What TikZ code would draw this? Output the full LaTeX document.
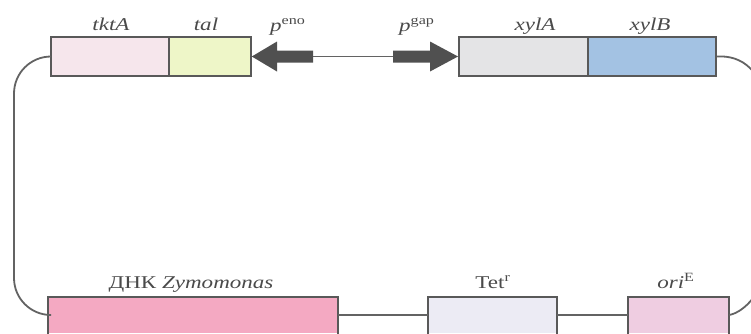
\documentclass[tikz,border=0pt]{standalone}
\usepackage{fontspec}
\setmainfont{Liberation Serif}
\usepackage{graphicx}
\definecolor{bordc}{HTML}{595959}
\definecolor{linec}{HTML}{636363}
\definecolor{arrc}{HTML}{505050}
\definecolor{txtc}{HTML}{4a4a4a}
\definecolor{ctkt}{HTML}{F6E6EC}
\definecolor{ctal}{HTML}{EEF6C8}
\definecolor{cxya}{HTML}{E4E4E6}
\definecolor{cxyb}{HTML}{A3C2E3}
\definecolor{cdnk}{HTML}{F4A9C2}
\definecolor{ctet}{HTML}{ECEBF4}
\definecolor{cori}{HTML}{EFCDE1}
\newcommand\lbl[1]{\scalebox{1.28}[1]{#1}}
\begin{document}
\begin{tikzpicture}[x=1pt,y=-1pt,
  gene/.style={draw=bordc, line width=1.8pt, minimum height=39pt, inner sep=0pt, anchor=west},
  lowgene/.style={minimum height=36pt, inner sep=0pt},
  boxedge/.style={draw=bordc, line width=1.8pt},
  loopline/.style={draw=linec, line width=1.8pt},
  thinline/.style={draw=linec, line width=1.2pt},
  prom/.style={fill=arrc, draw=none},
  lab/.style={anchor=base, text=txtc, font=\fontsize{18}{21}\selectfont, inner sep=0pt}]
\useasboundingbox (0,0) rectangle (751,333);
\clip (0,0) rectangle (751,333);
% top genes
\node[gene, fill=ctkt, minimum width=118pt] (tkt) at (50,56.5) {};
\node[gene, fill=ctal, minimum width=82pt] (tal) at (168,56.5) {};
\node[gene, fill=cxya, minimum width=129pt] (xya) at (458,56.5) {};
\node[gene, fill=cxyb, minimum width=128pt] (xyb) at (587,56.5) {};
% promoters
\coordinate (enoTail) at (313,56.5);
\coordinate (gapTail) at (393,56.5);
\fill[prom] (tal.east) -- (277,41.5) -- (277,50.5) -- (313,50.5) -- (313,62.5) -- (277,62.5) -- (277,71.5) -- cycle;
\fill[prom] (xya.west) -- (430,41.5) -- (430,50.5) -- (393,50.5) -- (393,62.5) -- (430,62.5) -- (430,71.5) -- cycle;
\draw[thinline] (enoTail) -- (gapTail);
% bottom genes
\node[lowgene, fill=cdnk, minimum width=290pt] (dnk) at (193,315) {};
\node[lowgene, fill=ctet, minimum width=129pt] (tet) at (492.5,315) {};
\node[lowgene, fill=cori, minimum width=101pt] (ori) at (678.5,315) {};
\foreach \n in {dnk,tet,ori}
  \draw[boxedge] ([yshift=-3pt]\n.south west) -- (\n.north west) -- (\n.north east) -- ([yshift=-3pt]\n.south east);
\draw[loopline] (dnk.east) -- (tet.west);
\draw[loopline] (tet.east) -- (ori.west);
% loop
\draw[loopline, rounded corners=37pt] (tkt.west) -| (14,315) -- (dnk.west);
\draw[loopline] (xyb.east) .. controls (742,55) and (762,70) .. (768,110) -- (768,260) .. controls (765,290) and (745,312) .. (ori.east);
% labels
\node[lab] (ltkt) at (111,30) {\lbl{\itshape tktA}};
\node[lab] (ltal) at (206,30) {\lbl{\itshape tal}};
\node[lab, anchor=base west] (leno) at (270,31) {\lbl{\itshape p\/\upshape\textsuperscript{eno}}};
\node[lab, anchor=base west] (lgap) at (399,31) {\lbl{\itshape p\/\upshape\textsuperscript{gap}}};
\node[lab] (lxya) at (535,30) {\lbl{\itshape xylA}};
\node[lab] (lxyb) at (650,30) {\lbl{\itshape xylB}};
\node[lab] (ldnk) at (191,288) {\lbl{ДНК \itshape Zymomonas}};
\node[lab] (ltet) at (493,288) {\lbl{Tet\textsuperscript{r}}};
\node[lab] (lori) at (676,288) {\lbl{\itshape ori\/\upshape\textsuperscript{E}}};
\end{tikzpicture}
\end{document}
